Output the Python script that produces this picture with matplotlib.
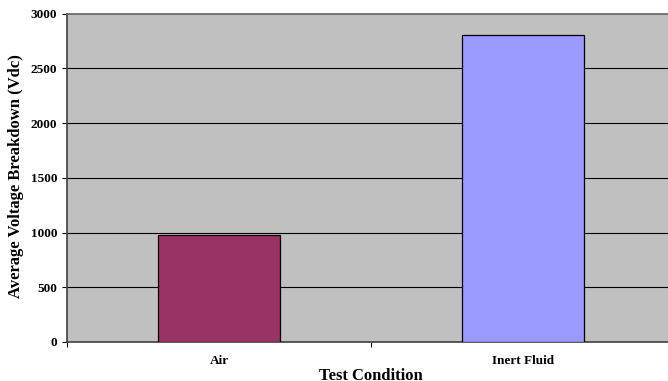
import numpy as np
import matplotlib
matplotlib.use('agg')
import matplotlib.pyplot as plt

conditions = ['Air', 'Inert Fluid']
breakdown = [975, 2805]
bar_colors = ['#993366', '#9999FF']
yticks = [0, 500, 1000, 1500, 2000, 2500, 3000]

plt.rcParams['font.family'] = ['Liberation Serif', 'DejaVu Serif']
plt.rcParams['font.weight'] = 'bold'

W, H = 668, 381
fig = plt.figure(figsize=(W/100., H/100.), dpi=100)
ax = fig.add_axes([67./W, 1-342./H, 608./W, 328.5/H])
ax.set_facecolor('#C0C0C0')

x = np.arange(len(conditions)) + 0.5
ax.bar(x, breakdown, width=0.4, color=bar_colors, edgecolor='black', linewidth=0.9, zorder=3)

ax.set_xlim(0, len(conditions))
ax.set_ylim(0, 3000)
ax.set_yticks(yticks)
ax.set_yticklabels([str(v) for v in yticks], fontsize=9.5, fontweight='bold')
for v in yticks[1:-1]:
    ax.axhline(v, color='black', lw=0.8, zorder=1)

# category boundaries get ticks, labels sit in the middle
ax.set_xticks(np.arange(len(conditions) + 1))
ax.set_xticklabels([])
ax.set_xticks(x, minor=True)
ax.set_xticklabels(conditions, minor=True, fontsize=9.5, fontweight='bold')
ax.tick_params(axis='x', which='minor', length=0, pad=9)
ax.tick_params(axis='x', which='major', length=3.6, direction='out', width=0.8)
ax.tick_params(axis='y', length=3.6, direction='out', width=0.8, pad=3.6)

for side in ['top', 'right']:
    ax.spines[side].set_color('#606060')
    ax.spines[side].set_linewidth(1.2)
for side in ['left', 'bottom']:
    ax.spines[side].set_color('#404040')
    ax.spines[side].set_linewidth(1.2)

ax.set_xlabel('Test Condition', fontsize=12, fontweight='bold')
ax.xaxis.set_label_coords((371.-67.)/608., -0.079)
ax.set_ylabel('Average Voltage Breakdown (Vdc)', fontsize=12, fontweight='bold')
ax.yaxis.set_label_coords(-0.071, 0.505)

fig.savefig('out.png', dpi=100, facecolor='white')
